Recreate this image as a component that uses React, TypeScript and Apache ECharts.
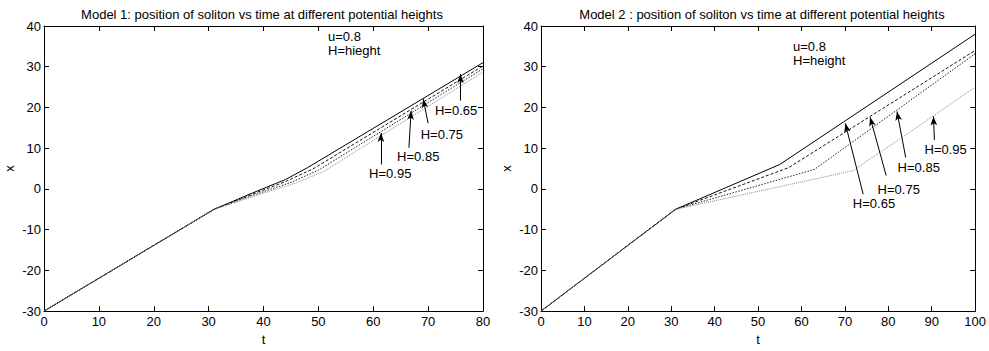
import React, { useEffect, useRef } from "react";
import * as echarts from "echarts";

// Soliton position x(t) for each potential height H, Model 1 (t in 0..80)
const model1H065 = [[0, -30], [31, -5], [38, -1.0], [44, 2.3], [48, 5.2], [80, 31.0]];
const model1H075 = [[0, -30], [31, -5], [38, -1.3], [44, 1.8], [49, 4.9], [80, 30.2]];
const model1H085 = [[0, -30], [31, -5], [38, -1.6], [45, 1.6], [50, 4.6], [80, 29.5]];
const model1H095 = [[0, -30], [31, -5], [38, -1.9], [46, 1.5], [51, 4.3], [80, 28.7]];

// Model 2 (t in 0..100)
const model2H065 = [[0, -30], [31, -5], [55, 6.0], [100, 38.0]];
const model2H075 = [[0, -30], [31, -5], [57, 5.2], [100, 34.0]];
const model2H085 = [[0, -30], [31, -5], [63, 4.8], [100, 33.2]];
const model2H095 = [[0, -30], [31, -5], [72, 4.5], [75, 6.8], [83, 12.5], [100, 25.0]];

const heightLabels = ["H=0.65", "H=0.75", "H=0.85", "H=0.95"];

// Arrow tails, arrow tips and label anchors, in (t, x) units
const model1ArrowTails = [[75.9, 21.7], [70.0, 16.1], [66.5, 10.1], [61.4, 6.0]];
const model1ArrowTips = [[75.9, 28.2], [69.1, 22.1], [66.9, 19.2], [61.4, 13.7]];
const model1LabelAt = [[75.1, 19.2], [72.5, 13.4], [68.2, 7.9], [63.1, 3.8]];

const model2ArrowTails = [[74.2, -1.3], [79.5, 3.3], [84.0, 7.7], [90.6, 12.0]];
const model2ArrowTips = [[70.1, 16.1], [75.8, 17.6], [82.0, 19.0], [90.4, 17.8]];
const model2LabelAt = [[76.7, -3.7], [82.4, -0.1], [87.0, 5.2], [93.2, 9.6]];

const yMin = -30;
const yMax = 40;
const tickStep = 10;

const FONT = "'Liberation Sans', Arial, Helvetica, sans-serif";
const FS = 13;

const lineStyles = [
  { color: "#000", width: 1, type: "solid" as const },
  { color: "#111", width: 1, type: [3, 2] },
  { color: "#222", width: 1, type: [1.5, 1.5] },
  { color: "#888", width: 1, type: [1, 1] },
];

function App() {
  const ref = useRef<HTMLDivElement>(null);

  useEffect(() => {
    if (!ref.current) return;
    const chart = echarts.init(ref.current, null, { renderer: "svg" });

    const axisLine = { show: true, onZero: false, lineStyle: { color: "#000", width: 1 } };
    const tick = { show: true, inside: true, length: 5, lineStyle: { color: "#000", width: 1 } };
    const label = { color: "#000", fontSize: FS, fontFamily: FONT };

    const xAxisPair = (grid: number, max: number) => [
      {
        type: "value", gridIndex: grid, position: "bottom", min: 0, max, interval: tickStep,
        axisLine, axisTick: tick, splitLine: { show: false },
        axisLabel: { ...label, margin: 4 },
        name: "t", nameLocation: "middle", nameGap: 20,
        nameTextStyle: { color: "#000", fontSize: FS, fontFamily: FONT },
      },
      {
        type: "value", gridIndex: grid, position: "top", min: 0, max, interval: tickStep,
        axisLine, axisTick: tick, splitLine: { show: false }, axisLabel: { show: false },
      },
    ];
    const yAxisPair = (grid: number) => [
      {
        type: "value", gridIndex: grid, position: "left", min: yMin, max: yMax, interval: tickStep,
        axisLine, axisTick: tick, splitLine: { show: false },
        axisLabel: { ...label, margin: 3 },
        name: "x", nameLocation: "middle", nameGap: 28, nameRotate: 90,
        nameTextStyle: { color: "#000", fontSize: FS, fontFamily: FONT },
      },
      {
        type: "value", gridIndex: grid, position: "right", min: yMin, max: yMax, interval: tickStep,
        axisLine, axisTick: tick, splitLine: { show: false }, axisLabel: { show: false },
      },
    ];

    const curveSeries = (data: number[][][], xi: number, yi: number) =>
      data.map((d, i) => ({
        type: "line",
        name: heightLabels[i],
        xAxisIndex: xi,
        yAxisIndex: yi,
        data: d,
        showSymbol: false,
        symbol: "none",
        lineStyle: lineStyles[i],
        z: 2,
      }));

    const arrowSeries = (tails: number[][], tips: number[][], xi: number, yi: number) => ({
      type: "line",
      xAxisIndex: xi,
      yAxisIndex: yi,
      data: [],
      symbol: "none",
      markLine: {
        silent: true,
        symbol: ["none", "arrow"],
        symbolSize: [5, 9],
        label: { show: false },
        lineStyle: { color: "#000", width: 1, type: "solid" },
        emphasis: { disabled: true },
        data: tails.map((tail, i) => [{ coord: tail }, { coord: tips[i] }]),
      },
      z: 3,
    });

    const textStyle = { fill: "#000", fontSize: FS, fontFamily: FONT };

    chart.setOption({
      animation: false,
      textStyle: { fontFamily: FONT },
      grid: [
        { left: 44, right: 506, top: 26, bottom: 35 },
        { left: 541, right: 10, top: 26, bottom: 35 },
      ],
      xAxis: [...xAxisPair(0, 80), ...xAxisPair(1, 100)],
      yAxis: [...yAxisPair(0), ...yAxisPair(1)],
      series: [
        ...curveSeries([model1H065, model1H075, model1H085, model1H095], 0, 0),
        ...curveSeries([model2H065, model2H075, model2H085, model2H095], 2, 2),
        arrowSeries(model1ArrowTails, model1ArrowTips, 0, 0),
        arrowSeries(model2ArrowTails, model2ArrowTips, 2, 2),
      ],
    });

    // Height labels placed through each grid's own scales
    const heightTexts = (at: number[][], gridIndex: number) =>
      at.map((p, i) => {
        const [px, py] = chart.convertToPixel({ gridIndex }, p) as number[];
        return {
          type: "text",
          x: px,
          y: py,
          silent: true,
          style: { ...textStyle, text: heightLabels[i], textAlign: "center", textVerticalAlign: "middle" },
        };
      });

    chart.setOption({
      graphic: [
        {
          type: "text", x: 262, y: 14,
          style: { ...textStyle, text: "Model 1: position of soliton vs time at different potential heights", textAlign: "center", textVerticalAlign: "middle" },
        },
        {
          type: "text", x: 762, y: 14,
          style: { ...textStyle, text: "Model 2 : position of soliton vs time at different potential heights", textAlign: "center", textVerticalAlign: "middle" },
        },
        {
          type: "text", x: 328, y: 29,
          style: { ...textStyle, text: "u=0.8\nH=hieght", lineHeight: 14 },
        },
        {
          type: "text", x: 793, y: 39,
          style: { ...textStyle, text: "u=0.8\nH=height", lineHeight: 14 },
        },
        ...heightTexts(model1LabelAt, 0),
        ...heightTexts(model2LabelAt, 1),
      ],
    });

    return () => chart.dispose();
  }, []);

  return (
    <div
      ref={ref}
      style={{ position: "fixed", left: 0, top: 0, width: 989, height: 351, background: "#fff" }}
    />
  );
}

export default App;
